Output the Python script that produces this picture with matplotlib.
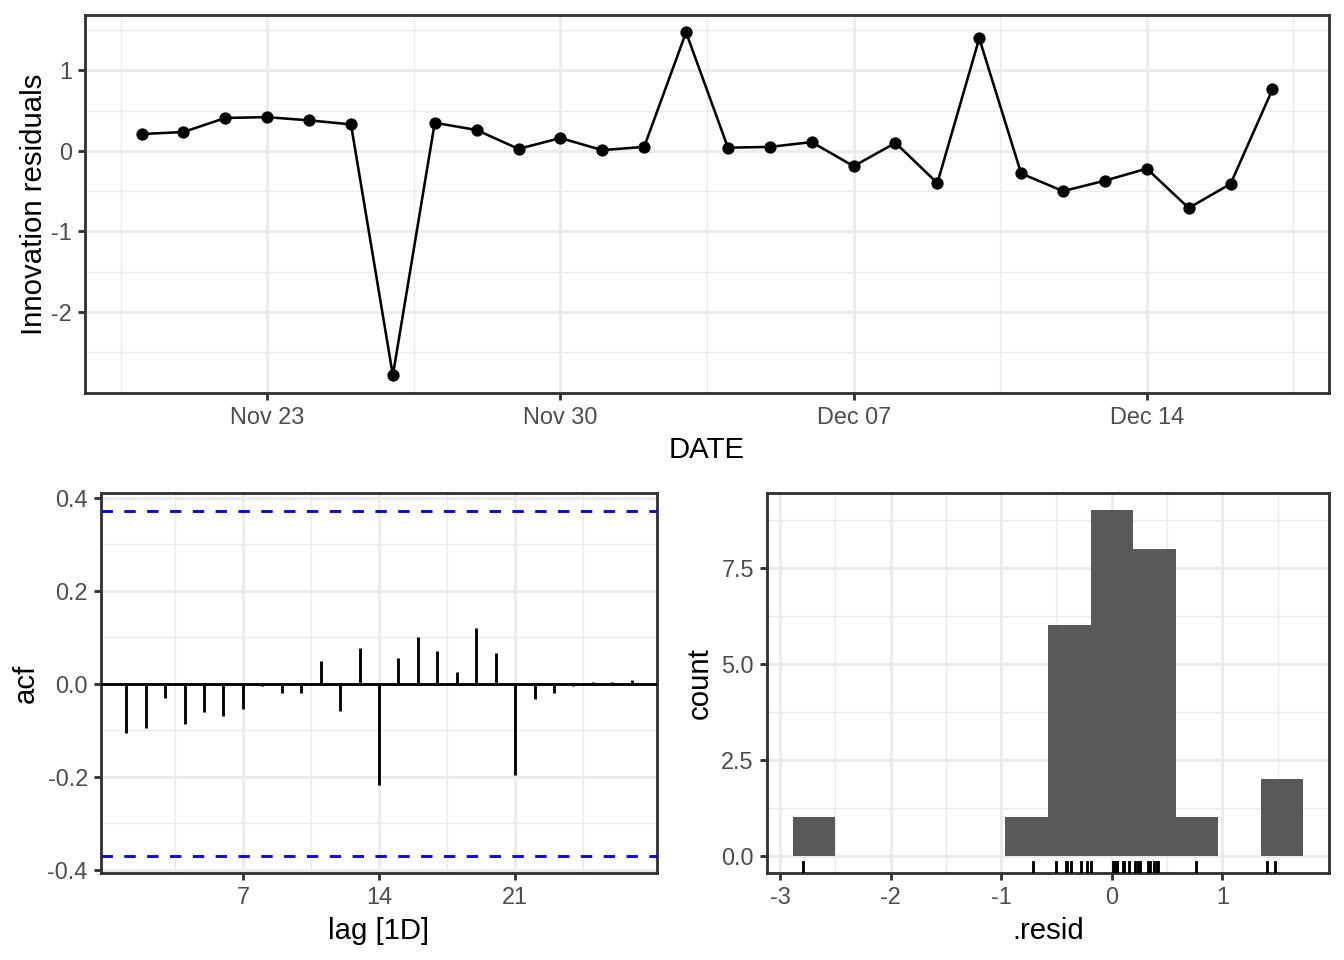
import matplotlib
matplotlib.use("Agg")
import matplotlib.pyplot as plt
import matplotlib.dates as mdates
import numpy as np
import pandas as pd

plt.rcParams['font.family'] = ['Liberation Sans', 'DejaVu Sans']
plt.rcParams['axes.unicode_minus'] = False

# innovation residuals, one per day
start_date = "2020-11-20"
resid = [0.21, 0.235, 0.41, 0.42, 0.38, 0.33, -2.79, 0.35, 0.26, 0.025,
         0.16, 0.01, 0.05, 1.475, 0.04, 0.05, 0.11, -0.19, 0.10, -0.40,
         1.40, -0.28, -0.50, -0.37, -0.22, -0.71, -0.41, 0.765]
dates = pd.date_range(start_date, periods=len(resid), freq="D")

# autocorrelation of the residuals
lags = list(range(1, 28))
acf = [-0.105, -0.095, -0.030, -0.086, -0.060, -0.069, -0.054, -0.006, -0.019,
       -0.019, 0.049, -0.058, 0.077, -0.217, 0.055, 0.100, 0.070, 0.025,
       0.120, 0.066, -0.196, -0.032, -0.019, -0.004, 0.004, 0.003, 0.008]
acf_bound = 1.96 / np.sqrt(len(resid))

# histogram binning
bin_start = -2.886
bin_width = 0.385
n_bins = 12

GRID = "#EBEBEB"
FRAME = "#333333"
TXT = "#4D4D4D"
LW = 1.07


def theme_bw(ax):
    for s in ax.spines.values():
        s.set_color(FRAME)
        s.set_linewidth(LW)
    ax.set_facecolor("white")
    ax.grid(True, which="major", color=GRID, linewidth=LW, zorder=0)
    ax.grid(True, which="minor", color=GRID, linewidth=LW / 2, zorder=0)
    ax.set_axisbelow(True)
    ax.tick_params(which="major", length=2.75, width=LW, color=FRAME,
                   labelcolor=TXT, labelsize=8.8, pad=2.2)
    ax.tick_params(which="minor", length=0)


fig = plt.figure(figsize=(7, 5), dpi=192)

# --- residual time series ---
ax1 = fig.add_axes([85 / 1344, 1 - 393 / 960, (1329 - 85) / 1344, (393 - 15) / 960])
theme_bw(ax1)
ax1.plot(dates, resid, color="black", linewidth=LW * 0.9, zorder=3)
ax1.plot(dates, resid, "o", color="black", markersize=3.6, zorder=4)
pad = pd.Timedelta(days=1.35)
ax1.set_xlim(dates[0] - pad, dates[-1] + pad)
ax1.set_ylim(-3.01, 1.69)
ticks = pd.date_range("2020-11-23", "2020-12-14", freq="7D")
ax1.set_xticks(ticks)
ax1.set_xticks(ticks[0] + pd.to_timedelta(np.arange(-1, 4) * 7 + 3.5, unit="D"), minor=True)
ax1.xaxis.set_major_formatter(mdates.DateFormatter("%b %d"))
ax1.set_yticks([-2, -1, 0, 1])
ax1.set_yticks([-2.5, -1.5, -0.5, 0.5, 1.5], minor=True)
ax1.set_xlabel("DATE", fontsize=11, labelpad=2.5)
ax1.set_ylabel("Innovation residuals", fontsize=11, labelpad=1)

# --- ACF ---
ax2 = fig.add_axes([101 / 1344, 1 - 873 / 960, (657 - 101) / 1344, (873 - 493) / 960])
theme_bw(ax2)
ax2.vlines(lags, 0, acf, color="black", linewidth=LW, zorder=3)
ax2.axhline(0, color="black", linewidth=LW, zorder=3)
ax2.axhline(acf_bound, color="blue", linewidth=LW, linestyle=(0, (4, 4)), zorder=3)
ax2.axhline(-acf_bound, color="blue", linewidth=LW, linestyle=(0, (4, 4)), zorder=3)
ax2.set_xlim(-0.3, 28.3)
ax2.set_ylim(-0.407, 0.41)
ax2.set_xticks([7, 14, 21])
ax2.set_xticks([3.5, 10.5, 17.5, 24.5], minor=True)
ax2.set_yticks([-0.4, -0.2, 0.0, 0.2, 0.4])
ax2.set_yticks([-0.3, -0.1, 0.1, 0.3], minor=True)
ax2.set_yticklabels(["-0.4", "-0.2", "0.0", "0.2", "0.4"])
ax2.set_xlabel("lag [1D]", fontsize=11, labelpad=3)
ax2.set_ylabel("acf", fontsize=11, labelpad=3)

# --- histogram ---
ax3 = fig.add_axes([767 / 1344, 1 - 873 / 960, (1329 - 767) / 1344, (873 - 493) / 960])
theme_bw(ax3)
edges = bin_start + bin_width * np.arange(n_bins + 1)
counts, edges = np.histogram(resid, bins=edges)
ax3.bar(edges[:-1], counts, width=bin_width, align="edge", color="#595959",
        linewidth=0, zorder=2)
ax3.set_xlim(-3.117, 1.965)
ax3.set_ylim(-0.45, 9.45)
rug_len = 0.03
for r in resid:
    ax3.plot([r, r], [0, rug_len], transform=ax3.get_xaxis_transform(),
             color="black", linewidth=LW, zorder=3)
ax3.set_xticks([-3, -2, -1, 0, 1])
ax3.set_xticks([-2.5, -1.5, -0.5, 0.5, 1.5], minor=True)
ax3.set_yticks([0, 2.5, 5, 7.5])
ax3.set_yticks([1.25, 3.75, 6.25, 8.75], minor=True)
ax3.set_yticklabels(["0.0", "2.5", "5.0", "7.5"])
ax3.set_xlabel(".resid", fontsize=11, labelpad=3)
ax3.set_ylabel("count", fontsize=11, labelpad=3)

fig.savefig("out.png", dpi=192)
